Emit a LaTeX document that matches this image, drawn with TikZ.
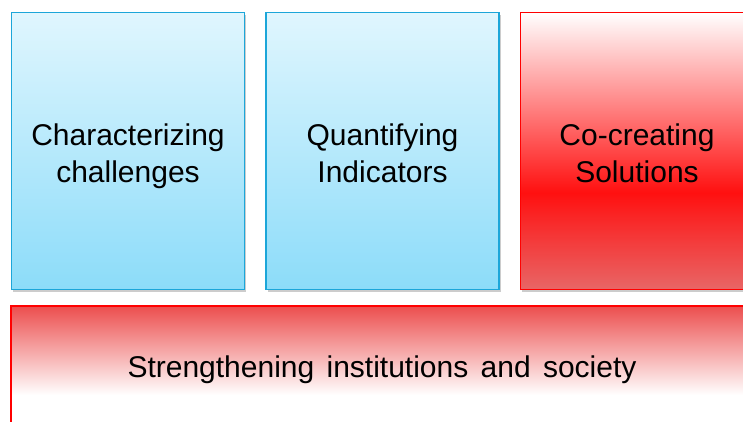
\documentclass[tikz,border=0pt]{standalone}
\usepackage{fontspec}
\setmainfont{Liberation Sans}
\usetikzlibrary{shadows}

\definecolor{boxblue}{HTML}{1CA6D9}
\definecolor{bluetop}{HTML}{E0F6FE}
\definecolor{bluebottom}{HTML}{8CDCF9}
\definecolor{solred}{HTML}{FF1010}
\definecolor{solbottom}{HTML}{E86666}
\definecolor{instred}{HTML}{EC4E4E}
\pgfdeclareverticalshading{cocreateshade}{100bp}{color(0bp)=(solbottom); color(25bp)=(solbottom); color(42.5bp)=(solred); color(75bp)=(white); color(100bp)=(white)}

\tikzset{
  stage/.style={rectangle, line width=1.5pt, minimum width=233pt, minimum height=277pt,
    drop shadow={shadow xshift=1.5pt, shadow yshift=-2.5pt, opacity=0.4}},
  bluestage/.style={stage, draw=boxblue, top color=bluetop, bottom color=bluebottom},
  redstage/.style={stage, draw=red, shading=cocreateshade},
  stagetext/.style={align=center, font=\fontsize{30}{37}\selectfont,
    execute at begin node=\strut, execute at end node=\strut},
}

\begin{document}
\begin{tikzpicture}[x=1pt,y=-1pt]
    % Fix the frame of the picture
    \clip (0,0) rectangle (743,421);
    % Draw the three stages
    \node[bluestage] (chall) at (128,151) {};
    \node[bluestage] (quant) at (382.5,151) {};
    \node[redstage] (cocreate) at (637,151) {};
    % Label the stages
    \foreach \stg/\txt in {chall/Characterizing\\challenges, quant/Quantifying\\Indicators,
      cocreate/Co-creating\\Solutions}
      \node[stagetext] (\stg-text) at ([yshift=-8pt]\stg.center) {\txt};
    % Draw the base underneath
    \node[stage, draw=red, minimum width=743pt, minimum height=178pt,
      top color=instred, bottom color=white, middle color=white] (instbox) at (382.5,395) {};
    \node[font=\fontsize{30}{37}\selectfont] (inst) at (382,370)
      {Strengthening\hspace{4pt} institutions\hspace{4pt} and\hspace{4pt} society};
\end{tikzpicture}
\end{document}
